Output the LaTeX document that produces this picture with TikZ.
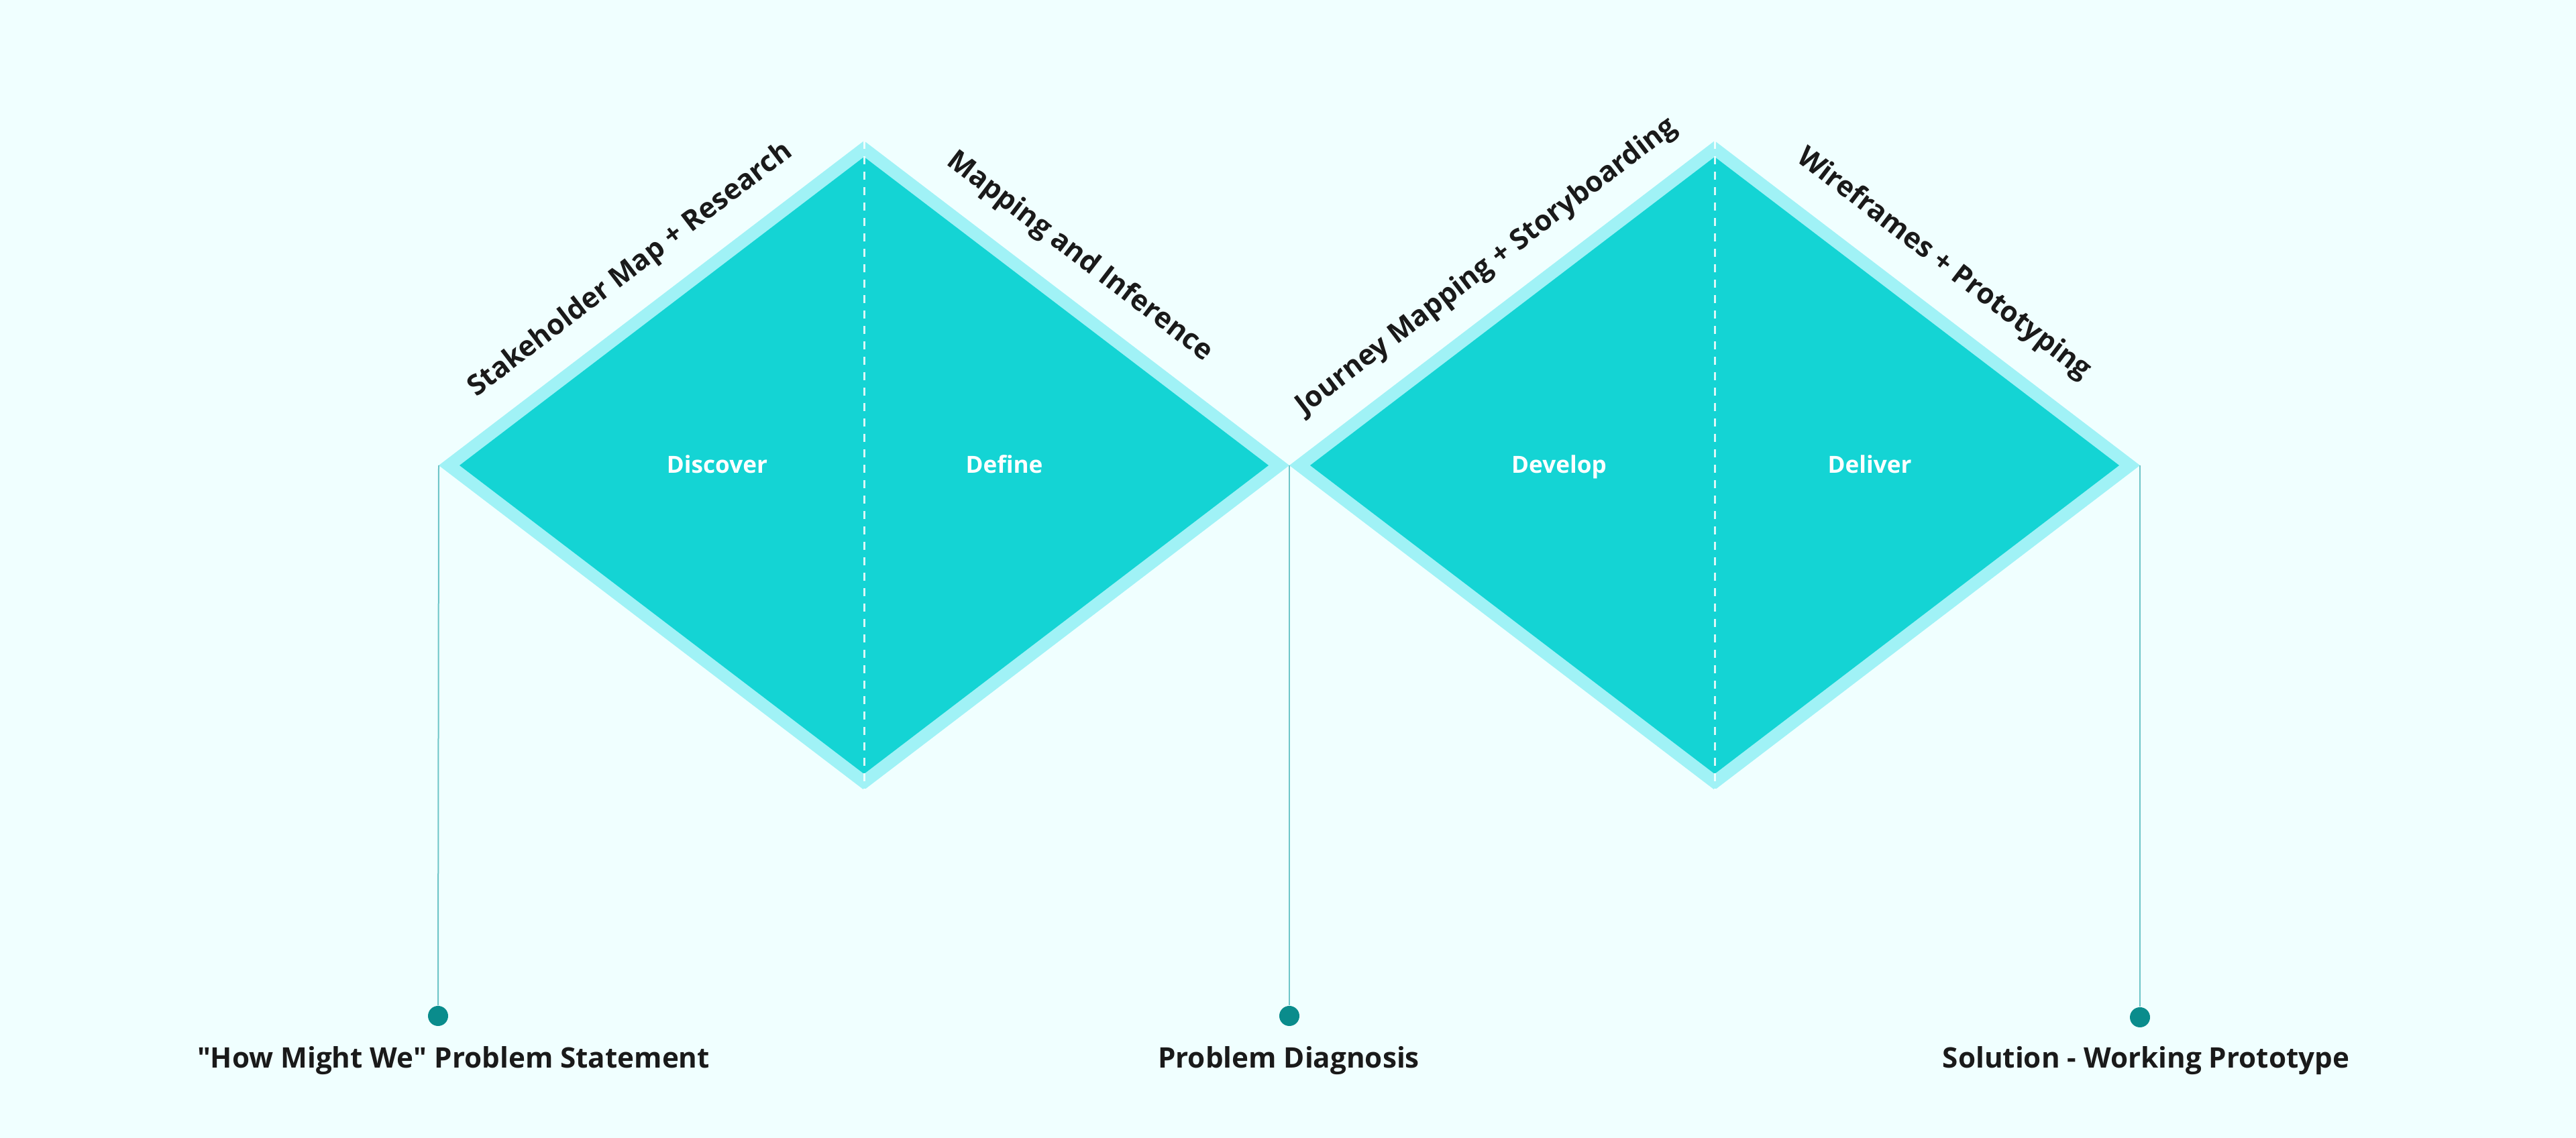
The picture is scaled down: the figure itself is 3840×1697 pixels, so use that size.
\documentclass[tikz,border=0pt]{standalone}
\usepackage{fontspec}
\setmainfont{Open Sans}
\usepackage{tikz}
\usetikzlibrary{positioning, calc}
\definecolor{bgPaper}{RGB}{240, 255, 255}
\definecolor{diaFill}{RGB}{20, 212, 212}
\definecolor{diaRim}{RGB}{160, 242, 246}
\definecolor{dotTeal}{RGB}{10, 140, 140}
\definecolor{stemTeal}{RGB}{110, 197, 200}
\definecolor{inkDark}{RGB}{26, 26, 26}
\tikzstyle{stem} = [stemTeal, line width=0.2mm]
\tikzstyle{split} = [white, opacity=0.85, line width=0.3mm, dash pattern=on 1.2mm off 1.1mm]
\tikzstyle{rim} = [fill=diaRim]
\tikzstyle{core} = [fill=diaFill]
\tikzstyle{phase} = [text=white, anchor=base, font=\bfseries\fontsize{10}{12}\selectfont]
\tikzstyle{method} = [text=inkDark, font=\bfseries\fontsize{12}{14}\selectfont]
\tikzstyle{outcome} = [text=inkDark, anchor=base, font=\bfseries\fontsize{12}{14}\selectfont]
\tikzstyle{dot} = [circle, fill=dotTeal, minimum size=3mm, inner sep=0pt]

\begin{document}
\begin{tikzpicture}[x=0.1mm, y=-0.1mm]

\fill [bgPaper] (0,0) rectangle (3840,1697);
\useasboundingbox (0,0) rectangle (3840,1697);

% outer corners of the two diamonds
\coordinate (d1c) at (1288,694);
\coordinate (d2c) at (2556,694);
\coordinate (d1left) at ($(d1c)+(-634,0)$);
\coordinate (d1top) at ($(d1c)+(0,-484)$);
\coordinate (d1right) at ($(d1c)+(634,0)$);
\coordinate (d1bot) at ($(d1c)+(0,484)$);
\coordinate (d2left) at ($(d2c)+(-634,0)$);
\coordinate (d2top) at ($(d2c)+(0,-484)$);
\coordinate (d2right) at ($(d2c)+(634,0)$);
\coordinate (d2bot) at ($(d2c)+(0,484)$);

\fill [rim] (d1left) -- (d1top) -- (d1right) -- (d1bot) -- cycle;
\fill [core] ($(d1c)+(-603,0)$) -- ($(d1c)+(0,-460)$) -- ($(d1c)+(603,0)$) -- ($(d1c)+(0,460)$) -- cycle;
\fill [rim] (d2left) -- (d2top) -- (d2right) -- (d2bot) -- cycle;
\fill [core] ($(d2c)+(-603,0)$) -- ($(d2c)+(0,-460)$) -- ($(d2c)+(603,0)$) -- ($(d2c)+(0,460)$) -- cycle;

\draw [split] (d1top) -- (d1bot);
\draw [split] (d2top) -- (d2bot);

\node (discover) [phase] at ($(d1c)+(-219,12)$) {Discover};
\node (define) [phase] at ($(d1c)+(209,12)$) {Define};
\node (develop) [phase] at ($(d2c)+(-232,12)$) {Develop};
\node (deliver) [phase] at ($(d2c)+(231,12)$) {Deliver};

\node (stake) [method, rotate=37.4] at ($(d1left)!0.5!(d1top)+(-31,-49)$) {Stakeholder Map + Research};
\node (mapping) [method, rotate=-37.4] at ($(d1top)!0.5!(d1right)+(4,-69)$) {Mapping and Inference};
\node (journey) [method, rotate=37.4] at ($(d2left)!0.5!(d2top)+(-23,-54)$) {Journey Mapping + Storyboarding};
\node (wire) [method, rotate=-37.4] at ($(d2top)!0.5!(d2right)+(24,-58)$) {Wireframes + Prototyping};

\node (dot0) [dot] at (653,1515) {};
\node (dot1) [dot] at (1922,1515) {};
\node (dot2) [dot] at (3190,1517) {};
\draw [stem] (d1left) -- (dot0.north);
\draw [stem] (d1right) -- (dot1.north);
\draw [stem] (d2right) -- (dot2.north);

\node (hmw) [outcome] at (676,1593) {\textquotedbl How Might We\textquotedbl{} Problem Statement};
\node (diag) [outcome] at (1921,1593) {Problem Diagnosis};
\node (proto) [outcome] at (3199,1593) {Solution - Working Prototype};

\end{tikzpicture}
\end{document}
